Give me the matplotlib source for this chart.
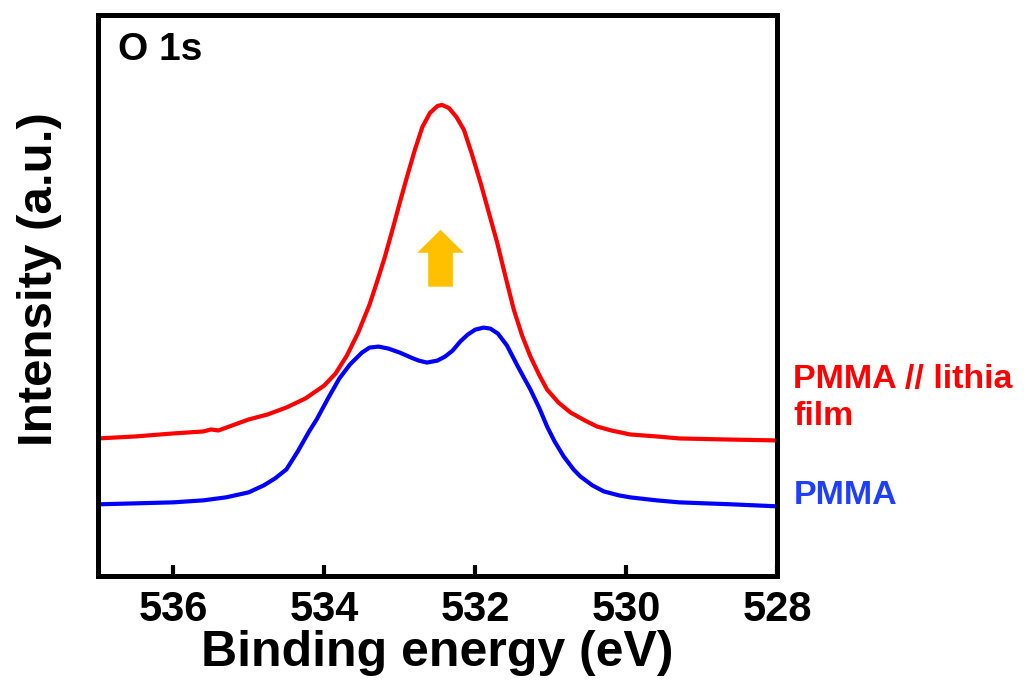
import matplotlib
matplotlib.use("Agg")
import matplotlib.pyplot as plt

plt.rcParams["font.family"] = ["Liberation Sans", "DejaVu Sans"]
plt.rcParams["font.weight"] = "bold"

# O 1s spectra (binding energy in eV, intensity in a.u.)
energy_lithia = [537.0, 536.5, 536.0, 535.6, 535.5, 535.4, 535.0, 534.75, 534.5,
                 534.25, 534.0, 533.85, 533.7, 533.55, 533.4, 533.3, 533.2, 533.1,
                 533.0, 532.9, 532.8, 532.7, 532.6, 532.5, 532.44, 532.35, 532.25,
                 532.15, 532.05, 531.93, 531.82, 531.71, 531.6, 531.49, 531.38,
                 531.27, 531.15, 531.05, 530.9, 530.74, 530.55, 530.39, 530.2,
                 529.95, 529.6, 529.3, 528.7, 528.0]
intensity_lithia = [138, 140, 143, 145, 147, 146, 157, 162, 169,
                    178, 191, 203, 221, 244, 272, 295, 319, 346,
                    374, 401, 427, 450, 464, 471, 472, 469, 460,
                    447, 424, 394, 364, 334, 300, 267, 241,
                    220, 201, 187, 174, 164, 156, 150, 146,
                    142, 140, 138, 137, 136]

energy_pmma = [537.0, 536.0, 535.6, 535.3, 535.0, 534.8, 534.65, 534.5, 534.35,
               534.2, 534.1, 533.95, 533.8, 533.66, 533.5, 533.4, 533.28, 533.15,
               533.0, 532.85, 532.75, 532.64, 532.5, 532.4, 532.3, 532.2, 532.1,
               532.0, 531.89, 531.8, 531.7, 531.58, 531.45, 531.35, 531.27, 531.15,
               531.05, 530.95, 530.83, 530.7, 530.61, 530.45, 530.3, 530.1, 529.95,
               529.6, 529.3, 528.6, 528.0]
intensity_pmma = [72, 74, 76, 79, 84, 91, 98, 107, 125,
                  145, 157, 178, 198, 212, 224, 229, 230, 228,
                  224, 219, 216, 214, 216, 220, 226, 235, 242,
                  247, 249, 248, 243, 231, 212, 198, 187, 168,
                  150, 135, 120, 107, 100, 91, 85, 81, 79,
                  76, 74, 72, 70]

RED = "#FF0000"
BLUE = "#0000FF"

fig = plt.figure(figsize=(10.27, 6.86), dpi=100)
ax = fig.add_axes([0.095, 0.160, 0.662, 0.818])

ax.plot(energy_lithia, intensity_lithia, color=RED, lw=3, solid_joinstyle="round")
ax.plot(energy_pmma, intensity_pmma, color=BLUE, lw=3, solid_joinstyle="round")

# orange "increase" arrow
ax.arrow(532.46, 290, 0, 57, width=0.326, head_width=0.617, head_length=23,
         length_includes_head=True, color="#FFC000", lw=0)

ax.set_xlim(537, 528)
ax.set_ylim(0, 562)
ax.set_xticks([536, 534, 532, 530, 528])
ax.set_yticks([])
ax.tick_params(axis="x", direction="in", length=8, width=3, pad=10, labelsize=30)
for lab in ax.get_xticklabels():
    lab.set_fontweight("bold")
for s in ax.spines.values():
    s.set_linewidth(3.6)

ax.set_xlabel("Binding energy (eV)", fontsize=36, fontweight="bold", labelpad=0)
ax.set_ylabel("Intensity (a.u.)", fontsize=35.5, fontweight="bold")
ax.yaxis.set_label_coords(-0.052, 0.53)

ax.text(0.030, 0.938, "O 1s", transform=ax.transAxes, fontsize=28,
        fontweight="bold", va="center", ha="left")
ax.text(1.0235, 0.318, "PMMA // lithia\nfilm", transform=ax.transAxes,
        fontsize=24.5, fontweight="bold", color=RED, va="center", ha="left",
        linespacing=1.27, clip_on=False)
ax.text(1.0235, 0.144, "PMMA", transform=ax.transAxes, fontsize=24.5,
        fontweight="bold", color="#1F3FFF", va="center", ha="left", clip_on=False)

fig.savefig("out.png", dpi=100)
